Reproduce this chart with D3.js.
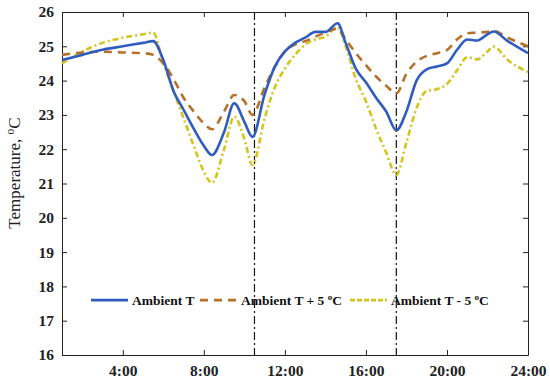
<!DOCTYPE html>
<html>
<head>
<meta charset="utf-8">
<script src="https://cdn.jsdelivr.net/npm/d3@7"></script>
<style>
  body { margin: 0; background: #fff; }
  text { font-family: "Liberation Serif", "Times New Roman", serif; }
</style>
</head>
<body>
<div id="chart"></div>
<script>
// hours of day (shared x positions for the three series)
const hours = [1, 2, 3, 4, 5, 5.5, 6, 6.5, 7, 7.5, 8, 8.4, 9, 9.5, 10, 10.4, 11, 11.5, 12, 12.5,
    13, 13.5, 14, 14.6, 15, 15.5, 16, 16.5, 17, 17.5, 18, 18.5, 19, 19.5, 20, 20.5, 21, 21.5, 22, 22.3, 23, 24];

const ambient = [24.6, 24.75, 24.9, 25.0, 25.1, 25.15, 24.6, 23.7, 23.15, 22.6, 22.1, 21.83, 22.5, 23.34, 22.8, 22.36,
    23.6, 24.4, 24.85, 25.1, 25.25, 25.42, 25.42, 25.67, 25.1, 24.35, 23.95, 23.5, 23.1, 22.55,
    23.1, 24.0, 24.33, 24.41, 24.5, 24.9, 25.2, 25.17, 25.35, 25.43, 25.15, 24.8];

const ambientPlus5 = [24.75, 24.82, 24.84, 24.82, 24.8, 24.75, 24.5, 24.05, 23.5, 23.1, 22.75, 22.58, 23.1, 23.58, 23.4, 23.0,
    23.8, 24.4, 24.85, 25.05, 25.15, 25.28, 25.4, 25.52, 25.2, 24.8, 24.45, 24.12, 23.85, 23.63,
    24.2, 24.55, 24.72, 24.8, 24.89, 25.2, 25.38, 25.4, 25.42, 25.45, 25.25, 25.0];

const ambientMinus5 = [24.5, 24.85, 25.1, 25.25, 25.35, 25.4, 24.5, 23.7, 22.9, 22.1, 21.35, 21.02, 22.0, 22.95, 22.3, 21.54,
    22.9, 23.8, 24.35, 24.75, 25.05, 25.2, 25.28, 25.55, 25.0, 24.05, 23.4, 22.6, 21.9, 21.25,
    22.2, 23.2, 23.7, 23.75, 23.9, 24.3, 24.68, 24.62, 24.85, 24.99, 24.6, 24.25];

const xTicks = [4, 8, 12, 16, 20, 24];
const yTicks = [16, 17, 18, 19, 20, 21, 22, 23, 24, 25, 26];
const markerHours = [10.5, 17.5];

const series = [
    {name: "Ambient T", values: ambient, color: "#2f5cbe", dash: null},
    {name: "Ambient T + 5 ", values: ambientPlus5, color: "#b5702a", dash: "8,6", deg: true},
    {name: "Ambient T - 5 ", values: ambientMinus5, color: "#d6c41e", dash: "6,3,2,3", deg: true}
];

const svg = d3.select("#chart").append("svg")
    .attr("width", 550)
    .attr("height", 385);
const margin = {top: 12, right: 22, bottom: 30, left: 62};
const width = 550 - margin.left - margin.right;
const height = 385 - margin.top - margin.bottom;
const chart = svg.append("g").attr("transform", `translate(${margin.left},${margin.top})`);

const xScale = d3.scaleLinear().domain([1, 24]).range([0, width]);
const yScale = d3.scaleLinear().domain([16, 26]).range([height, 0]);

// axes with inward ticks, mirrored on top and right
const fmtHour = d => `${d}:00`;
chart.append("g").attr("transform", `translate(0,${height})`)
    .call(d3.axisBottom(xScale).tickValues(xTicks).tickFormat(fmtHour).tickSizeInner(-5).tickSizeOuter(0).tickPadding(10));
chart.append("g")
    .call(d3.axisLeft(yScale).tickValues(yTicks).tickSizeInner(-5).tickSizeOuter(0).tickPadding(8));
chart.append("g")
    .call(d3.axisTop(xScale).tickValues(xTicks).tickFormat("").tickSizeInner(-5).tickSizeOuter(0));
chart.append("g").attr("transform", `translate(${width},0)`)
    .call(d3.axisRight(yScale).tickValues(yTicks).tickFormat("").tickSizeInner(-5).tickSizeOuter(0));

chart.selectAll(".domain").attr("stroke", "#222").attr("stroke-width", 1);
chart.selectAll(".tick line").attr("stroke", "#222");
chart.selectAll(".tick text")
    .attr("font-family", "Liberation Serif, serif")
    .attr("font-size", 15.5)
    .attr("font-weight", "bold")
    .attr("fill", "#222");

// vertical dash-dot markers
chart.selectAll(".marker").data(markerHours).enter().append("line")
    .attr("x1", d => xScale(d)).attr("x2", d => xScale(d))
    .attr("y1", 0).attr("y2", height)
    .attr("stroke", "#111")
    .attr("stroke-width", 1.2)
    .attr("stroke-dasharray", "8,3,2,3");

const line = values => d3.line()
    .x((d, i) => xScale(hours[i]))
    .y(d => yScale(d))
    .curve(d3.curveMonotoneX)(values);

// draw yellow first, then orange, blue on top
[series[2], series[1], series[0]].forEach(s => {
    chart.append("path")
        .attr("d", line(s.values))
        .attr("fill", "none")
        .attr("stroke", s.color)
        .attr("stroke-width", 2.6)
        .attr("stroke-dasharray", s.dash)
        .attr("stroke-linejoin", "round");
});

// legend
const legendX = [29, 138, 288];
const legend = chart.append("g").attr("transform", `translate(0,${yScale(17.6)})`);
series.forEach((s, i) => {
    legend.append("line")
        .attr("x1", legendX[i]).attr("x2", legendX[i] + 37)
        .attr("y1", 0).attr("y2", 0)
        .attr("stroke", s.color)
        .attr("stroke-width", 2.6)
        .attr("stroke-dasharray", i === 2 ? "5,2" : s.dash);
    const t = legend.append("text")
        .attr("x", legendX[i] + 41)
        .attr("y", 5)
        .attr("font-size", 13.5)
        .attr("font-weight", "bold")
        .attr("fill", "#111")
        .text(s.name);
    if (s.deg) {
        t.append("tspan").attr("font-size", 9).attr("dy", -5).text("o");
        t.append("tspan").attr("dy", 5).text("C");
    }
});

// y-axis label
const ylab = svg.append("text")
    .attr("transform", `translate(20,173) rotate(-90)`)
    .attr("text-anchor", "middle")
    .attr("font-size", 17)
    .attr("fill", "#222")
    .text("Temperature, ");
ylab.append("tspan").attr("font-size", 11.5).attr("dy", -6).text("o");
ylab.append("tspan").attr("dy", 6).text("C");
</script>
</body>
</html>
